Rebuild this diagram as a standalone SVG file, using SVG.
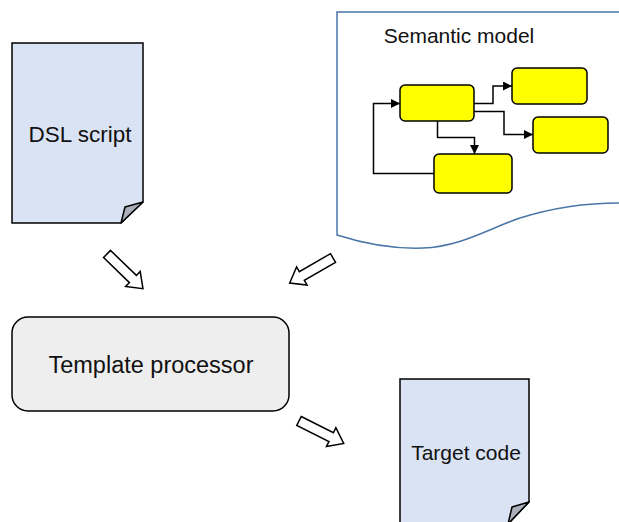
<svg xmlns="http://www.w3.org/2000/svg" width="619" height="522" viewBox="0 0 619 522">
  <defs>
    <marker id="tri" viewBox="0 0 10 10" refX="10" refY="5" markerWidth="9" markerHeight="9" markerUnits="userSpaceOnUse" orient="auto">
      <path d="M0,0 L10,5 L0,10 Z" fill="#000"/>
    </marker>
    <!-- block arrow pointing along +x, tail at origin -->
    <path id="block" d="M0,-5 L36,-5 L36,-10.5 L50,0 L36,10.5 L36,5 L0,5 Z"/>
  </defs>
  <style>
    .doc { fill: #dae3f3; stroke: #000; stroke-width: 1.5; }
    .fold { fill: #a9aeb9; stroke: #000; stroke-width: 1.5; stroke-linejoin: round; }
    .label { font-family: "Liberation Sans", Arial, sans-serif; fill: #111; }
    .ybox { fill: #ffff00; stroke: #000; stroke-width: 1.5; }
    .link { fill: none; stroke: #000; stroke-width: 1.5; marker-end: url(#tri); }
    .flow { fill: #fff; stroke: #000; stroke-width: 1.5; stroke-linejoin: miter; }
  </style>

  <!-- DSL script document -->
  <g id="dsl-script">
    <path class="doc" d="M12,43 H143 V202 L121,223 H12 Z"/>
    <path class="fold" d="M143,202 L125,207 L121,223 Z"/>
    <text class="label" x="80" y="142" font-size="22.5" text-anchor="middle">DSL script</text>
  </g>

  <!-- Semantic model sheet with its inner graph -->
  <g id="semantic-model">
    <path d="M619,12 H337 V235 C365,244 395,249 423,248 C460,247 490,228 520,218 C555,207 585,203 619,203" fill="#fff" stroke="#4a76a8" stroke-width="1.5"/>
    <text class="label" x="459" y="43" font-size="21" text-anchor="middle">Semantic model</text>
  </g>

  <g id="model-node-a"><rect class="ybox" x="400" y="85" width="74" height="36" rx="5"/></g>
  <g id="model-node-b"><rect class="ybox" x="512" y="68" width="75" height="36" rx="5"/></g>
  <g id="model-node-c"><rect class="ybox" x="533" y="117" width="75" height="36" rx="5"/></g>
  <g id="model-node-d"><rect class="ybox" x="434" y="154" width="78" height="39" rx="5"/></g>

  <!-- Template processor -->
  <g id="template-processor">
    <rect x="12" y="317" width="277" height="94" rx="16" fill="#eeeeee" stroke="#000" stroke-width="1.5"/>
    <text class="label" x="151" y="373" font-size="23.5" text-anchor="middle">Template processor</text>
  </g>

  <!-- Target code document -->
  <g id="target-code">
    <path class="doc" d="M400,379 H529 V502 L508,524 H400 Z"/>
    <path class="fold" d="M529,502 L512,507 L508,524 Z"/>
    <text class="label" x="466" y="460" font-size="21" text-anchor="middle">Target code</text>
  </g>

  <!-- connectors -->
  <g id="connectors">
    <polyline class="link" points="474,103.5 493,103.5 493,86 512,86"/>
    <polyline class="link" points="474,111.5 504,111.5 504,134.5 533,134.5"/>
    <polyline class="link" points="437.5,121 437.5,137.5 474.5,137.5 474.5,154"/>
    <polyline class="link" points="434,173.5 373.5,173.5 373.5,103.5 400,103.5"/>

    <use href="#block" class="flow" transform="translate(107,254) rotate(44)"/>
    <use href="#block" class="flow" transform="translate(333,258) rotate(150)"/>
    <use href="#block" class="flow" transform="translate(299,421) rotate(26.6)"/>
  </g>
</svg>
